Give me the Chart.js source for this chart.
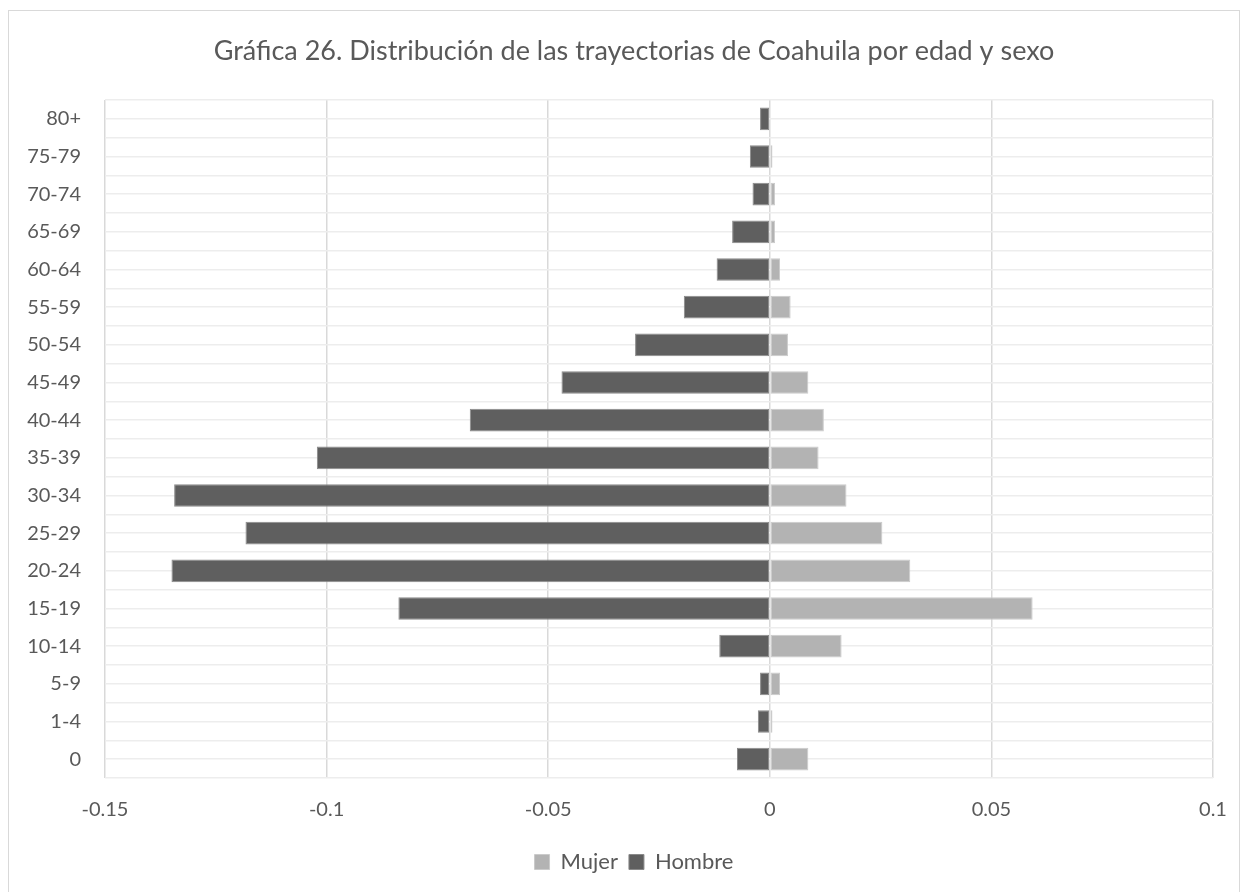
<!DOCTYPE html>
<html lang="es">
<head>
<meta charset="utf-8">
<title>Gráfica 26</title>
<script src="https://cdn.jsdelivr.net/npm/chart.js@4.4.1/dist/chart.umd.min.js"></script>
<style>
  html, body { margin: 0; padding: 0; background: #ffffff; }
  #frame {
    position: absolute; left: 8px; top: 10px; width: 1232px; height: 900px;
    border: 1px solid #d9d9d9; box-sizing: border-box;
  }
  #chart { position: absolute; left: 0; top: 0; }
</style>
</head>
<body>
<div id="frame"></div>
<canvas id="chart" width="1248" height="892"></canvas>
<script>
// Age groups, listed from the youngest upward (drawn bottom to top)
const categories = ['0', '1-4', '5-9', '10-14', '15-19', '20-24', '25-29', '30-34', '35-39',
  '40-44', '45-49', '50-54', '55-59', '60-64', '65-69', '70-74', '75-79', '80+'];

// Share of trajectories by sex (men shown on the negative side)
const mujer = [0.0087, 0.0006, 0.0023, 0.0162, 0.0593, 0.0317, 0.0254, 0.0173, 0.0110,
  0.0122, 0.0087, 0.0041, 0.0047, 0.0023, 0.0012, 0.0012, 0.0006, 0.0000];
const hombre = [-0.0074, -0.0027, -0.0022, -0.0114, -0.0838, -0.1350, -0.1183, -0.1344, -0.1022,
  -0.0677, -0.0470, -0.0304, -0.0194, -0.0120, -0.0085, -0.0039, -0.0045, -0.0022];

// Value axis tick labels
const xTickLabels = ['-0.15', '-0.1', '-0.05', '0', '0.05', '0.1'];

const textColor = '#595959';
const fontFamily = 'Lato, "Open Sans", sans-serif';

new Chart(document.getElementById('chart'), {
  type: 'bar',
  data: {
    labels: categories,
    datasets: [
      {
        label: 'Mujer',
        data: mujer,
        backgroundColor: '#b3b3b3',
        borderColor: '#cbcbcb',
        borderWidth: 1,
        borderSkipped: false
      },
      {
        label: 'Hombre',
        data: hombre,
        backgroundColor: '#5f5f5f',
        borderColor: '#8a8a8a',
        borderWidth: 1,
        borderSkipped: false
      }
    ]
  },
  options: {
    indexAxis: 'y',
    responsive: false,
    devicePixelRatio: 1,
    animation: false,
    barPercentage: 0.6,
    categoryPercentage: 1.0,
    layout: { padding: { left: 20, right: 0, top: 0, bottom: 9 } },
    scales: {
      x: {
        type: 'linear',
        stacked: true,
        min: -0.15,
        max: 0.1,
        ticks: {
          stepSize: 0.05,
          color: textColor,
          font: { family: fontFamily, size: 20 },
          padding: 20,
          maxRotation: 0,
          autoSkip: false,
          callback: (v, i) => xTickLabels[i]
        },
        grid: { color: '#d9d9d9', lineWidth: 1.5, drawTicks: false },
        border: { display: false },
        afterFit: (s) => { s.height = 62; }
      },
      y: {
        type: 'category',
        stacked: true,
        reverse: true,
        ticks: {
          color: textColor,
          font: { family: fontFamily, size: 20 },
          padding: 24
        },
        grid: { color: '#ededed', lineWidth: 1.5, drawTicks: false },
        border: { display: false },
        afterFit: (s) => { s.width = 85; }
      },
      // Extra guide lines through the middle of each age band; its box also
      // keeps the right margin of the plot
      yMid: {
        type: 'category',
        labels: categories,
        reverse: true,
        position: 'right',
        offset: true,
        ticks: { display: false },
        grid: { offset: false, color: '#ededed', lineWidth: 1.5, drawTicks: false },
        border: { display: false },
        afterFit: (s) => { s.width = 35; }
      }
    },
    plugins: {
      title: {
        display: true,
        text: 'Gráfica 26. Distribución de las trayectorias de Coahuila por edad y sexo',
        color: textColor,
        font: { family: fontFamily, size: 27, weight: 'normal', lineHeight: 1.2 },
        padding: { top: 35, bottom: 32.6 }
      },
      legend: {
        display: true,
        position: 'bottom',
        labels: {
          color: textColor,
          font: { family: fontFamily, size: 22 },
          boxWidth: 15,
          boxHeight: 15,
          padding: 11
        }
      },
      tooltip: { enabled: false }
    }
  }
});
</script>
</body>
</html>
